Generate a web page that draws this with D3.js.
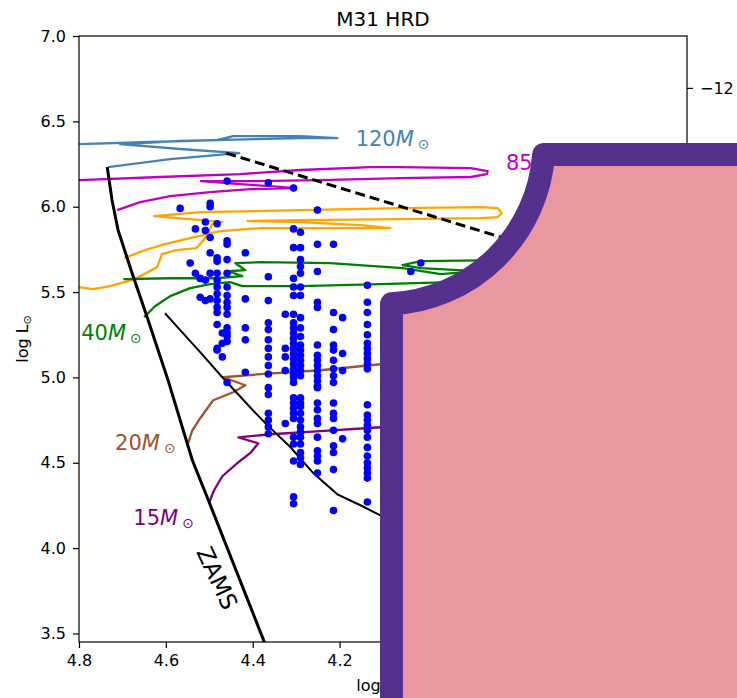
<!DOCTYPE html>
<html>
<head>
<meta charset="utf-8">
<script src="https://cdn.jsdelivr.net/npm/d3@7"></script>
<style>
  body { margin: 0; background: #fff; }
  svg { display: block; font-family: "DejaVu Sans", sans-serif; }
</style>
</head>
<body>
<script>
// ---- data (log Teff, log L) ----
const xTicks = [4.8, 4.6, 4.4, 4.2, 4.0, 3.8, 3.6, 3.4];
const yTicks = [3.5, 4.0, 4.5, 5.0, 5.5, 6.0, 6.5, 7.0];
const magTicks = [-12, -10, -8, -6, -4];

const zams = [[4.735, 6.232], [4.724, 6.039], [4.710, 5.863], [4.680, 5.628], [4.643, 5.353],
  [4.595, 4.984], [4.539, 4.515], [4.502, 4.280], [4.373, 3.448]];

const hdLimit = [[4.461, 6.314], [3.829, 5.822], [3.4, 5.822]];

const lowerEdge = [[4.602, 5.376], [4.567, 5.277], [4.521, 5.148], [4.470, 5.001], [4.406, 4.825],
  [4.371, 4.732], [4.313, 4.591], [4.260, 4.438], [4.205, 4.315], [4.152, 4.251], [4.106, 4.192], [3.944, 4.016]];

const track120 = [[4.733, 6.232], [4.590, 6.279], [4.459, 6.308], [4.431, 6.314], [4.567, 6.338],
  [4.705, 6.367], [4.567, 6.385], [4.290, 6.402], [4.205, 6.402], [4.290, 6.414], [4.445, 6.414],
  [4.482, 6.390], [4.636, 6.379], [4.800, 6.367], [4.844, 6.367]];

const track85 = [[4.712, 5.980], [4.659, 6.027], [4.590, 6.062], [4.498, 6.086], [4.406, 6.103],
  [4.304, 6.109], [4.359, 6.121], [4.429, 6.132], [4.519, 6.150], [4.406, 6.150], [4.244, 6.156],
  [4.060, 6.168], [3.898, 6.174], [3.861, 6.191], [3.859, 6.209], [3.898, 6.226], [4.060, 6.232],
  [4.129, 6.232], [4.290, 6.215], [4.429, 6.191], [4.613, 6.174], [4.800, 6.156], [4.844, 6.156]];

const track60 = [[4.696, 5.699], [4.648, 5.746], [4.602, 5.781], [4.544, 5.816], [4.475, 5.857],
  [4.382, 5.875], [4.221, 5.875], [4.083, 5.875], [4.152, 5.892], [4.290, 5.910], [4.412, 5.916],
  [4.290, 5.921], [4.060, 5.927], [3.875, 5.933], [3.836, 5.939], [3.827, 5.962], [3.836, 5.992],
  [3.875, 5.998], [4.060, 5.992], [4.290, 5.980], [4.521, 5.968], [4.627, 5.945], [4.544, 5.927],
  [4.470, 5.910], [4.493, 5.898], [4.509, 5.816], [4.530, 5.757], [4.576, 5.746], [4.609, 5.722],
  [4.620, 5.646], [4.671, 5.576], [4.728, 5.535], [4.768, 5.517], [4.800, 5.529], [4.844, 5.535]];

const track40 = [[4.650, 5.353], [4.625, 5.417], [4.590, 5.476], [4.544, 5.523], [4.498, 5.546],
  [4.452, 5.558], [4.424, 5.535], [4.290, 5.535], [4.106, 5.546], [3.944, 5.558], [3.783, 5.564],
  [3.552, 5.576], [3.506, 5.628], [3.552, 5.681], [3.829, 5.687], [4.013, 5.681], [4.055, 5.658],
  [4.013, 5.640], [3.882, 5.623], [3.967, 5.605], [4.055, 5.640], [4.221, 5.669], [4.382, 5.675],
  [4.440, 5.669], [4.417, 5.628], [4.456, 5.622], [4.424, 5.593], [4.486, 5.581], [4.590, 5.581],
  [4.698, 5.576]];

const track20 = [[4.549, 4.614], [4.539, 4.690], [4.521, 4.761], [4.491, 4.866], [4.445, 4.913],
  [4.417, 4.954], [4.468, 5.001], [4.382, 5.019], [4.244, 5.042], [4.106, 5.077], [3.829, 5.113]];

const track15 = [[4.500, 4.268], [4.489, 4.339], [4.470, 4.421], [4.436, 4.497], [4.406, 4.556],
  [4.387, 4.614], [4.433, 4.649], [4.359, 4.667], [4.244, 4.685], [4.106, 4.708], [3.829, 4.737]];

// observed stars: one temperature per column, luminosities of the stars in it
const starTeff = [4.567, 4.544, 4.532, 4.521, 4.509, 4.498, 4.482, 4.470, 4.459, 4.417, 4.364,
  4.325, 4.306, 4.290, 4.251, 4.214, 4.193, 4.136, 4.036, 4.013];
const starLogL = [
  [5.99],
  [5.67],
  [5.87, 5.61],
  [5.58, 5.47],
  [5.91, 5.86, 5.57, 5.45],
  [6.02, 6.00, 5.82, 5.73, 5.61, 5.46],
  [5.90, 5.70, 5.68, 5.61, 5.57, 5.53, 5.49, 5.45, 5.41, 5.38, 5.31, 5.17, 5.16],
  [5.26, 5.20, 5.12],
  [6.15, 5.80, 5.78, 5.69, 5.61, 5.53, 5.48, 5.44, 5.41, 5.37, 5.29, 5.26, 5.24, 5.21, 4.97],
  [5.73, 5.46, 5.29, 5.22, 5.03],
  [6.14, 5.59, 5.45, 5.32, 5.28, 5.22, 5.17, 5.12, 5.07, 5.02, 4.94, 4.90, 4.79, 4.75, 4.71, 4.67],
  [5.37, 5.17, 5.12, 5.04, 4.73],
  [6.11, 5.87, 5.76, 5.58, 5.53, 5.48, 5.37, 5.32, 5.29, 5.26, 5.23, 5.20, 5.17, 5.14, 5.11, 5.08,
    5.05, 5.02, 5.00, 4.97, 4.88, 4.85, 4.82, 4.79, 4.76, 4.65, 4.61, 4.51, 4.30, 4.26],
  [5.85, 5.76, 5.69, 5.65, 5.61, 5.53, 5.48, 5.35, 5.29, 5.24, 5.19, 5.16, 5.13, 5.10, 5.07, 5.04,
    5.01, 4.88, 4.85, 4.83, 4.79, 4.75, 4.71, 4.68, 4.65, 4.61, 4.56, 4.53, 4.49],
  [5.98, 5.78, 5.62, 5.44, 5.41, 5.19, 5.13, 5.10, 5.07, 5.04, 5.01, 4.98, 4.95, 4.94, 4.85, 4.81,
    4.76, 4.73, 4.65, 4.57, 4.54, 4.51, 4.44],
  [5.78, 5.38, 5.28, 5.19, 5.16, 5.10, 5.05, 5.01, 4.97, 4.85, 4.79, 4.76, 4.69, 4.60, 4.56, 4.46, 4.22],
  [5.35, 5.14, 5.04, 4.64],
  [5.54, 5.44, 5.38, 5.31, 5.25, 5.20, 5.17, 5.14, 5.11, 5.08, 5.05, 4.84, 4.78, 4.75, 4.72, 4.69,
    4.65, 4.59, 4.54, 4.50, 4.47, 4.44, 4.41, 4.27],
  [5.62],
  [5.67]
];

const tracks = [
  { pts: track120, mass: "120", color: "steelblue", at: [4.163, 6.356] },
  { pts: track85, mass: "85", color: "#bf00bf", at: [3.817, 6.215] },
  { pts: track60, mass: "60", color: "orange", at: null },
  { pts: track40, mass: "40", color: "green", at: [4.795, 5.218] },
  { pts: track20, mass: "20", color: "sienna", at: [4.717, 4.573] },
  { pts: track15, mass: "15", color: "purple", at: [4.675, 4.134] }
];

// ---- layout ----
const width = 737, height = 698;
const pLeft = 79, pRight = 687, pTop = 36, pBottom = 642;

const x = d3.scaleLinear().domain([4.8, 3.4]).range([pLeft, pRight]);
const y = d3.scaleLinear().domain([3.45, 7.0]).range([pBottom, pTop]);
const mag = d3.scaleLinear().domain([4.74 - 2.5 * 3.45, 4.74 - 2.5 * 7.0]).range([pBottom, pTop]);

const svg = d3.select("body").append("svg").attr("width", width).attr("height", height);

svg.append("defs").append("clipPath").attr("id", "plot")
  .append("rect").attr("x", pLeft).attr("y", pTop).attr("width", pRight - pLeft).attr("height", pBottom - pTop);

const line = d3.line().x(d => x(d[0])).y(d => y(d[1]));
const plot = svg.append("g").attr("clip-path", "url(#plot)");

tracks.forEach(t => {
  plot.append("path").attr("d", line(t.pts)).attr("fill", "none")
    .attr("stroke", t.color).attr("stroke-width", 2.3).attr("stroke-linejoin", "round");
});

plot.append("path").attr("d", line(zams)).attr("fill", "none").attr("stroke", "black").attr("stroke-width", 3);
plot.append("path").attr("d", line(lowerEdge)).attr("fill", "none").attr("stroke", "black").attr("stroke-width", 2);
plot.append("path").attr("d", line(hdLimit)).attr("fill", "none").attr("stroke", "black")
  .attr("stroke-width", 3).attr("stroke-dasharray", "10,5");

const stars = [];
starTeff.forEach((t, i) => starLogL[i].forEach(l => stars.push([t, l])));
plot.append("g").selectAll("circle").data(stars).enter().append("circle")
  .attr("cx", d => x(d[0])).attr("cy", d => y(d[1])).attr("r", 3.8).attr("fill", "blue");

// mass labels
tracks.filter(t => t.at).forEach(t => {
  const txt = svg.append("text").attr("x", x(t.at[0])).attr("y", y(t.at[1]))
    .attr("fill", t.color).attr("font-size", 21);
  txt.append("tspan").text(t.mass);
  txt.append("tspan").attr("font-style", "italic").text("M");
  txt.append("tspan").attr("font-size", 14).attr("dx", 4).attr("dy", 3).text("\u2299");
});

svg.append("text").attr("transform", `translate(${x(4.482)},${y(3.823)}) rotate(65)`)
  .attr("text-anchor", "middle").attr("dominant-baseline", "central")
  .attr("font-size", 23).text("ZAMS");

// axes
const axL = svg.append("g").attr("transform", `translate(${pLeft},0)`)
  .call(d3.axisLeft(y).tickValues(yTicks).tickFormat(d3.format(".1f")).tickSize(6).tickPadding(7));
const axB = svg.append("g").attr("transform", `translate(0,${pBottom})`)
  .call(d3.axisBottom(x).tickValues(xTicks).tickFormat(d3.format(".1f")).tickSize(6).tickPadding(7));
const axR = svg.append("g").attr("transform", `translate(${pRight},0)`)
  .call(d3.axisRight(mag).tickValues(magTicks).tickFormat(d3.format("d")).tickSize(6).tickPadding(7));
[axL, axB, axR].forEach(a => {
  a.select(".domain").remove();
  a.selectAll("text").attr("font-size", 16).attr("font-family", "DejaVu Sans").attr("fill", "#000");
  a.selectAll("line").attr("stroke", "#000").attr("stroke-width", 1.2);
});

svg.append("rect").attr("x", pLeft).attr("y", pTop).attr("width", pRight - pLeft).attr("height", pBottom - pTop)
  .attr("fill", "none").attr("stroke", "#000").attr("stroke-width", 1.2);

svg.append("text").attr("x", (pLeft + pRight) / 2).attr("y", 26).attr("text-anchor", "middle")
  .attr("font-size", 20).text("M31 HRD");

const yl = svg.append("text").attr("transform", `translate(28,${(pTop + pBottom) / 2}) rotate(-90)`)
  .attr("text-anchor", "middle").attr("font-size", 16);
yl.append("tspan").text("log L");
yl.append("tspan").attr("font-size", 11).attr("dy", 3).text("\u2299");

const xl = svg.append("text").attr("x", (pLeft + pRight) / 2).attr("y", 691).attr("text-anchor", "middle")
  .attr("font-size", 16);
xl.append("tspan").text("log T");
xl.append("tspan").attr("font-size", 11).attr("dy", 3).text("eff");

// overlay shape in the lower right corner
svg.append("path")
  .attr("d", "M391.5,760 L391.5,303.8 A161,161 0 0 0 543.6,154.5 L760,154.5 L760,760 Z")
  .attr("fill", "#eb979f").attr("stroke", "#55308d").attr("stroke-width", 23)
  .attr("stroke-linejoin", "round");
</script>
</body>
</html>
